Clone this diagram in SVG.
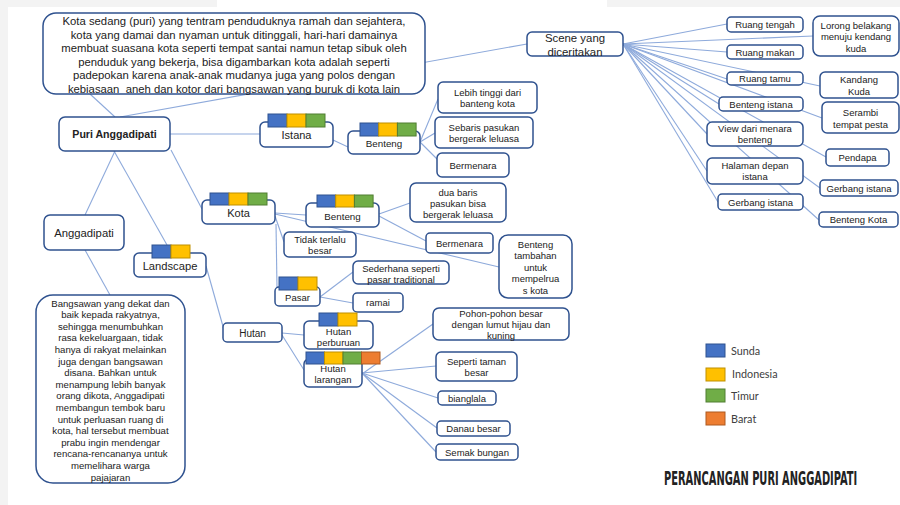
<svg xmlns="http://www.w3.org/2000/svg" width="900" height="505" viewBox="0 0 900 505">
<style>
.n{fill:#fff;stroke:#2f528f;stroke-width:1.5}
.c line{stroke:#8eaadb;stroke-width:1.1}
.t{font-family:"Liberation Sans",Arial,sans-serif;fill:#222;text-anchor:middle}
.s{font-size:9.5px}
.m{font-size:11px}
.b1{fill:#4472c4;stroke:#2f528f;stroke-width:1}
.b2{fill:#ffc000;stroke:#bf9000;stroke-width:1}
.b3{fill:#70ad47;stroke:#507e32;stroke-width:1}
.b4{fill:#ed7d31;stroke:#ae5a21;stroke-width:1}
.lg{font-family:Lato,"Open Sans",sans-serif;font-size:10.8px;fill:#404040}
</style>
<rect x="0" y="0" width="900" height="505" fill="#fff"/>
<rect x="0" y="0" width="217" height="7" fill="#f3f3f3"/>
<rect x="607" y="0" width="293" height="7" fill="#f3f3f3"/>
<rect x="0" y="0" width="8" height="505" fill="#f3f3f3"/>

<g id="connectors" class="c">
<line x1="115" y1="117" x2="90" y2="94"/>
<line x1="120" y1="117" x2="527" y2="44"/>
<line x1="170" y1="134" x2="260" y2="134"/>
<line x1="333" y1="140" x2="348" y2="147"/>
<line x1="420" y1="142" x2="438" y2="99"/>
<line x1="420" y1="142" x2="435" y2="133"/>
<line x1="420" y1="142" x2="438" y2="160"/>
<line x1="115" y1="151" x2="85" y2="215"/>
<line x1="114" y1="151" x2="167" y2="245"/>
<line x1="171" y1="150" x2="202" y2="209"/>
<line x1="275" y1="213" x2="306" y2="215"/>
<line x1="275" y1="214" x2="499" y2="267"/>
<line x1="379" y1="214" x2="410" y2="203"/>
<line x1="379" y1="216" x2="426" y2="241"/>
<line x1="275" y1="216" x2="284" y2="242"/>
<line x1="276" y1="224" x2="277" y2="288"/>
<line x1="320" y1="297" x2="353" y2="272"/>
<line x1="320" y1="297" x2="353" y2="303"/>
<line x1="85" y1="250" x2="110" y2="295"/>
<line x1="206" y1="266" x2="224" y2="330"/>
<line x1="282" y1="333" x2="304" y2="335"/>
<line x1="282" y1="335" x2="304" y2="370"/>
<line x1="362" y1="374" x2="433" y2="324"/>
<line x1="362" y1="373" x2="436" y2="366"/>
<line x1="362" y1="373" x2="438" y2="398"/>
<line x1="362" y1="373" x2="437" y2="428"/>
<line x1="362" y1="373" x2="436" y2="452"/>
<line x1="623" y1="44" x2="727" y2="24"/>
<line x1="623" y1="44" x2="813" y2="36"/>
<line x1="623" y1="44" x2="727" y2="52"/>
<line x1="623" y1="44" x2="727" y2="79"/>
<line x1="623" y1="44" x2="820" y2="86"/>
<line x1="623" y1="44" x2="719" y2="104"/>
<line x1="623" y1="44" x2="822" y2="118"/>
<line x1="623" y1="44" x2="707" y2="134"/>
<line x1="623" y1="44" x2="826" y2="157"/>
<line x1="623" y1="44" x2="707" y2="171"/>
<line x1="623" y1="44" x2="820" y2="188"/>
<line x1="623" y1="44" x2="718" y2="202"/>
<line x1="623" y1="44" x2="819" y2="220"/>
</g>

<g id="desc-kota">
<rect class="n" x="43" y="13" width="382" height="81" rx="13"/>
<text class="t" font-size="11.3" x="234" y="25">Kota sedang (puri) yang tentram penduduknya ramah dan sejahtera,</text>
<text class="t" font-size="11.3" x="234" y="38.5">kota yang damai dan nyaman untuk ditinggali, hari-hari damainya</text>
<text class="t" font-size="11.3" x="234" y="52">membuat suasana kota seperti tempat santai namun tetap sibuk oleh</text>
<text class="t" font-size="11.3" x="234" y="66">penduduk yang bekerja, bisa digambarkan kota adalah seperti</text>
<text class="t" font-size="11.3" x="234" y="79">padepokan karena anak-anak mudanya juga yang polos dengan</text>
<text class="t" font-size="11.3" x="234" y="93" xml:space="preserve">kebiasaan  aneh dan kotor dari bangsawan yang buruk di kota lain</text>
</g>

<g id="puri">
<rect class="n" x="59" y="117" width="111" height="34" rx="6"/>
<text class="t" font-size="10.6" font-weight="bold" x="114.5" y="138">Puri Anggadipati</text>
</g>

<g id="istana">
<rect class="n" x="260" y="122" width="73" height="25" rx="5"/>
<rect class="b1" x="268" y="114" width="19" height="13"/><rect class="b2" x="287" y="114" width="19" height="13"/><rect class="b3" x="306" y="114" width="19" height="13"/>
<text class="t m" x="296.5" y="139">Istana</text>
</g>

<g id="benteng-istana">
<rect class="n" x="348" y="131" width="72" height="23" rx="5"/>
<rect class="b1" x="360" y="123" width="18.7" height="13"/><rect class="b2" x="378.7" y="123" width="18.7" height="13"/><rect class="b3" x="397.4" y="123" width="18.7" height="13"/>
<text class="t" font-size="9.8" x="384" y="146.5">Benteng</text>
</g>

<g id="lebih-tinggi">
<rect class="n" x="438" y="82" width="99" height="31" rx="5"/>
<text class="t s" x="487.5" y="95.5">Lebih tinggi dari</text>
<text class="t s" x="487.5" y="107">banteng kota</text>
</g>
<g id="sebaris">
<rect class="n" x="435" y="117" width="98" height="31" rx="5"/>
<text class="t s" x="484" y="130.5">Sebaris pasukan</text>
<text class="t s" x="484" y="142">bergerak leluasa</text>
</g>
<g id="bermenara-istana">
<rect class="n" x="437" y="153" width="72" height="24" rx="5"/>
<text class="t s" x="473" y="169">Bermenara</text>
</g>

<g id="scene">
<rect class="n" x="527" y="32" width="96" height="24" rx="5"/>
<text class="t" font-size="11.4" x="575" y="42">Scene yang</text>
<text class="t" font-size="11.4" x="575" y="55.5">diceritakan</text>
</g>

<g id="ruang-tengah"><rect class="n" x="727" y="17" width="76" height="15" rx="4"/><text class="t s" x="765" y="28">Ruang tengah</text></g>
<g id="lorong"><rect class="n" x="813" y="16" width="86" height="40" rx="7"/><text class="t s" x="856" y="28.5">Lorong belakang</text><text class="t s" x="856" y="40">menuju kendang</text><text class="t s" x="856" y="51.5">kuda</text></g>
<g id="ruang-makan"><rect class="n" x="727" y="45" width="76" height="14" rx="4"/><text class="t s" x="765" y="55.5">Ruang makan</text></g>
<g id="ruang-tamu"><rect class="n" x="727" y="72" width="76" height="13" rx="4"/><text class="t s" x="765" y="82">Ruang tamu</text></g>
<g id="kandang"><rect class="n" x="820" y="72" width="78" height="26" rx="5"/><text class="t s" x="859" y="83">Kandang</text><text class="t s" x="859" y="94.5">Kuda</text></g>
<g id="benteng-istana-scene"><rect class="n" x="719" y="97" width="84" height="14" rx="4"/><text class="t s" x="761" y="107.5">Benteng istana</text></g>
<g id="serambi"><rect class="n" x="822" y="102" width="77" height="31" rx="5"/><text class="t s" x="860.5" y="116">Serambi</text><text class="t s" x="860.5" y="127.5">tempat pesta</text></g>
<g id="view"><rect class="n" x="707" y="122" width="96" height="24" rx="5"/><text class="t s" x="755" y="131.5">View dari menara</text><text class="t s" x="755" y="143">benteng</text></g>
<g id="pendapa"><rect class="n" x="826" y="149" width="63" height="17" rx="4"/><text class="t s" x="857.5" y="161">Pendapa</text></g>
<g id="halaman"><rect class="n" x="707" y="158" width="96" height="26" rx="5"/><text class="t s" x="755" y="168.5">Halaman depan</text><text class="t s" x="755" y="180">istana</text></g>
<g id="gerbang-r"><rect class="n" x="820" y="180" width="78" height="16" rx="4"/><text class="t s" x="859" y="191.5">Gerbang istana</text></g>
<g id="gerbang-l"><rect class="n" x="718" y="194" width="85" height="16" rx="4"/><text class="t s" x="760.5" y="205.5">Gerbang istana</text></g>
<g id="benteng-kota-scene"><rect class="n" x="819" y="212" width="79" height="15" rx="4"/><text class="t s" x="858.5" y="223">Benteng Kota</text></g>

<g id="kota">
<rect class="n" x="202" y="200" width="73" height="24" rx="5"/>
<rect class="b1" x="210" y="193" width="19" height="12"/><rect class="b2" x="229" y="193" width="19" height="12"/><rect class="b3" x="248" y="193" width="19" height="12"/>
<text class="t m" x="238.5" y="217">Kota</text>
</g>
<g id="benteng-kota">
<rect class="n" x="306" y="203" width="73" height="24" rx="5"/>
<rect class="b1" x="317" y="195" width="18.7" height="12"/><rect class="b2" x="335.7" y="195" width="18.7" height="12"/><rect class="b3" x="354.4" y="195" width="18.7" height="12"/>
<text class="t" font-size="9.8" x="342.5" y="219.5">Benteng</text>
</g>
<g id="dua-baris"><rect class="n" x="410" y="183" width="96" height="39" rx="6"/><text class="t s" x="458" y="195.5">dua baris</text><text class="t s" x="458" y="206.5">pasukan bisa</text><text class="t s" x="458" y="217.5">bergerak leluasa</text></g>
<g id="bermenara-kota"><rect class="n" x="426" y="233" width="67" height="20" rx="4"/><text class="t s" x="459.5" y="246.5">Bermenara</text></g>
<g id="benteng-tambahan"><rect class="n" x="499" y="235" width="73" height="63" rx="9"/><text class="t s" x="535.5" y="247.5">Benteng</text><text class="t s" x="535.5" y="259">tambahan</text><text class="t s" x="535.5" y="270.5">untuk</text><text class="t s" x="535.5" y="282">mempelrua</text><text class="t s" x="535.5" y="293.5">s kota</text></g>
<g id="tidak-terlalu"><rect class="n" x="284" y="232" width="72" height="25" rx="5"/><text class="t s" x="320" y="242.5">Tidak terlalu</text><text class="t s" x="320" y="254">besar</text></g>
<g id="pasar">
<rect class="n" x="275" y="287" width="45" height="19" rx="4"/>
<rect class="b1" x="279" y="277" width="19" height="13"/><rect class="b2" x="298" y="277" width="19" height="13"/>
<text class="t s" x="297.5" y="300.5">Pasar</text>
</g>
<g id="sederhana"><rect class="n" x="353" y="261" width="96" height="23" rx="5"/><text class="t s" x="401" y="271.5">Sederhana seperti</text><text class="t s" x="401" y="282.5">pasar traditional</text></g>
<g id="ramai"><rect class="n" x="353" y="293" width="50" height="19" rx="4"/><text class="t s" x="378" y="306">ramai</text></g>

<g id="anggadipati"><rect class="n" x="44" y="215" width="80" height="35" rx="6"/><text class="t" font-size="11.3" x="84" y="237">Anggadipati</text></g>
<g id="desc-anggadipati">
<rect class="n" x="36" y="295" width="149" height="188" rx="17"/>
<g class="t" font-size="9.6">
<text x="110.5" y="306.5">Bangsawan yang dekat dan</text>
<text x="110.5" y="318.1">baik kepada rakyatnya,</text>
<text x="110.5" y="329.7">sehingga menumbuhkan</text>
<text x="110.5" y="341.3">rasa kekeluargaan, tidak</text>
<text x="110.5" y="352.9">hanya di rakyat melainkan</text>
<text x="110.5" y="364.5">juga dengan bangsawan</text>
<text x="110.5" y="376.1">disana. Bahkan untuk</text>
<text x="110.5" y="387.7">menampung lebih banyak</text>
<text x="110.5" y="399.3">orang dikota, Anggadipati</text>
<text x="110.5" y="410.9">membangun tembok baru</text>
<text x="110.5" y="422.5">untuk perluasan ruang di</text>
<text x="110.5" y="434.1">kota, hal tersebut membuat</text>
<text x="110.5" y="445.7">prabu ingin mendengar</text>
<text x="110.5" y="457.3">rencana-rencananya untuk</text>
<text x="110.5" y="468.9">memelihara warga</text>
<text x="110.5" y="480.5">pajajaran</text>
</g>
</g>

<g id="landscape">
<rect class="n" x="134" y="253" width="72" height="24" rx="5"/>
<rect class="b1" x="152" y="245" width="19" height="13"/><rect class="b2" x="171" y="245" width="19" height="13"/>
<text class="t" font-size="11.2" x="170" y="269.5">Landscape</text>
</g>
<g id="hutan"><rect class="n" x="223" y="323" width="59" height="19" rx="4"/><text class="t" font-size="10" x="252.5" y="336.5">Hutan</text></g>
<g id="hutan-perburuan">
<rect class="n" x="304" y="321" width="69" height="28" rx="5"/>
<text class="t s" x="338.5" y="334.5">Hutan</text><text class="t s" x="338.5" y="345.5">perburuan</text>
<rect class="b1" x="319" y="313" width="19" height="13"/><rect class="b2" x="338" y="313" width="19" height="13"/>
</g>
<g id="hutan-larangan">
<rect class="n" x="304" y="359" width="58" height="28" rx="5"/>
<text class="t s" x="333" y="371.5">Hutan</text><text class="t s" x="333" y="382.5">larangan</text>
<rect class="b1" x="306" y="352" width="18.5" height="12"/><rect class="b2" x="324.5" y="352" width="18.5" height="12"/><rect class="b3" x="343" y="352" width="18.5" height="12"/><rect class="b4" x="361.5" y="352" width="18.5" height="12"/>
</g>
<g id="pohon"><rect class="n" x="433" y="308" width="136" height="32" rx="6"/><text class="t s" x="501" y="316.5">Pohon-pohon besar</text><text class="t s" x="501" y="327.5">dengan lumut hijau dan</text><text class="t s" x="501" y="339">kuning</text></g>
<g id="seperti-taman"><rect class="n" x="436" y="352" width="81" height="29" rx="5"/><text class="t s" x="476.5" y="364.5">Seperti taman</text><text class="t s" x="476.5" y="376">besar</text></g>
<g id="bianglala"><rect class="n" x="438" y="391" width="58" height="14" rx="4"/><text class="t s" x="467" y="401.5">bianglala</text></g>
<g id="danau"><rect class="n" x="437" y="421" width="73" height="15" rx="4"/><text class="t s" x="473.5" y="432">Danau besar</text></g>
<g id="semak"><rect class="n" x="436" y="444" width="82" height="16" rx="4"/><text class="t s" x="477" y="455.5">Semak bungan</text></g>

<g id="legend">
<rect class="b1" x="706" y="344" width="19" height="13"/><text class="lg" x="731" y="355">Sunda</text>
<rect class="b2" x="706" y="368" width="19" height="13"/><text class="lg" x="732" y="378">Indonesia</text>
<rect class="b3" x="706" y="389" width="19" height="13"/><text class="lg" x="731" y="400">Timur</text>
<rect class="b4" x="706" y="412" width="19" height="13"/><text class="lg" x="731" y="423">Barat</text>
</g>
<g id="title" transform="translate(664,485) scale(0.7,1)">
<text x="0" y="0" font-family="'Liberation Sans Narrow','DejaVu Sans Condensed','Liberation Sans',sans-serif" font-weight="bold" font-size="19" fill="#222" textLength="276" lengthAdjust="spacingAndGlyphs">PERANCANGAN PURI ANGGADIPATI</text>
</g>
</svg>
